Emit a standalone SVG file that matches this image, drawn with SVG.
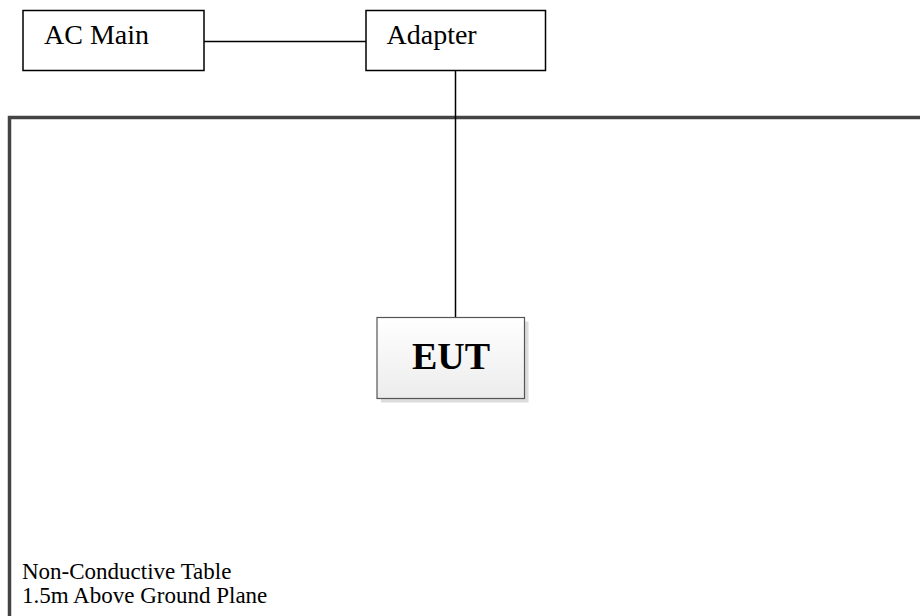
<svg xmlns="http://www.w3.org/2000/svg" width="920" height="616" viewBox="0 0 920 616">
<defs>
<linearGradient id="eutg" x1="0" y1="0" x2="0" y2="1">
<stop offset="0" stop-color="#ffffff"/>
<stop offset="1" stop-color="#ececec"/>
</linearGradient>
<style>
.box{fill:#fff;stroke:#000;stroke-width:1.5}
.lbl{font-family:"Liberation Serif","Times New Roman",serif;fill:#000}
.wire{stroke:#000;stroke-width:1.5;fill:none}
.table{stroke:#444;stroke-width:3.5;fill:none}
</style>
</defs>
<rect width="920" height="616" fill="#fff"/>
<g id="table">
<path class="table" d="M9.5,616 V117.5 H920"/>
<text class="lbl" x="22" y="578.5" font-size="23">Non-Conductive Table</text>
<text class="lbl" x="22" y="602.5" font-size="23">1.5m Above Ground Plane</text>
</g>
<g id="connectors">
<line class="wire" x1="204" y1="41.5" x2="366" y2="41.5"/>
<line class="wire" x1="455.5" y1="70.5" x2="455.5" y2="317.5"/>
</g>
<g id="ac-main">
<rect class="box" x="23" y="10.5" width="181" height="60"/>
<text class="lbl" x="44" y="44" font-size="28">AC Main</text>
</g>
<g id="adapter">
<rect class="box" x="366" y="10.5" width="179.5" height="60"/>
<text class="lbl" x="386.5" y="43.5" font-size="28">Adapter</text>
</g>
<g id="eut">
<rect x="381" y="321.5" width="147.5" height="81" fill="#dcdcdc"/>
<rect x="377" y="317.5" width="147.5" height="81" fill="url(#eutg)" stroke="#555" stroke-width="1.2"/>
<text class="lbl" x="451" y="369" font-size="38" font-weight="bold" text-anchor="middle">EUT</text>
</g>
</svg>
